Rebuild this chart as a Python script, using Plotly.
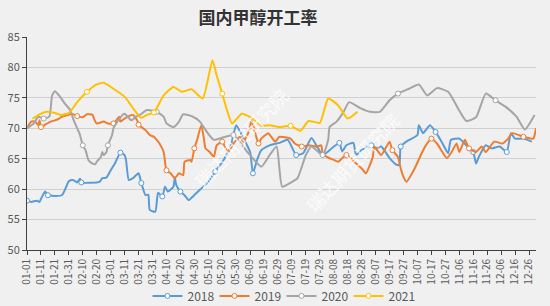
import plotly.graph_objects as go

# ---- data (dates as MM-DD, values in %) ----
d2018 = ["01-01","01-04","01-08","01-10","01-11","01-14","01-16","01-26","01-31","02-03",
         "02-06","02-08","02-09","02-22","02-24","02-27","03-01","03-04","03-08","03-11",
         "03-12","03-14","03-17","03-21","03-23","03-26","03-28","03-29","04-02","04-04",
         "04-07","04-09","04-11","04-15","04-16","04-17","04-20","04-23","04-26","04-29",
         "05-04","05-10","05-15","05-21","05-26","05-30","06-03","06-09","06-11","06-14",
         "06-17","06-23","06-30","07-06","07-12","07-17","07-23","07-27","07-31","08-07",
         "08-12","08-14","08-17","08-22","08-24","08-28","09-04","09-07","09-11","09-17",
         "09-22","09-24","09-25","09-29","10-07","10-08","10-11","10-16","10-20","10-25",
         "10-29","10-31","11-06","11-11","11-16","11-18","11-20","11-25","11-29","12-05",
         "12-10","12-13","12-16","12-22","12-28"]
v2018 = [58.1,57.9,58.1,57.9,58.4,59.6,59.0,59.0,61.3,61.5,
         61.1,61.7,61.1,61.2,61.8,61.9,63.1,64.2,66.0,65.6,
         64.8,61.5,61.8,62.6,61.0,59.0,59.1,56.6,56.3,59.4,
         58.8,60.4,59.6,60.4,61.9,60.7,59.6,59.0,58.2,58.8,
         59.9,61.2,62.9,64.8,67.0,70.5,68.9,66.1,62.6,64.8,
         66.4,67.2,67.6,68.1,65.6,65.9,68.4,67.0,65.6,66.8,
         67.6,66.2,67.2,67.6,65.6,66.4,67.2,66.7,67.0,65.1,
         64.0,64.0,67.0,67.8,68.9,70.5,69.2,70.5,69.4,67.5,
         65.9,68.1,68.3,67.2,66.1,64.2,65.3,67.2,66.7,67.0,
         66.1,69.2,68.3,68.3,67.8]

d2019 = ["01-01","01-04","01-07","01-09","01-10","01-11","01-14","01-18","01-21","01-24",
         "01-26","01-31","02-02","02-06","02-10","02-13","02-17","02-18","02-20","02-25",
         "02-28","03-03","03-05","03-07","03-08","03-11","03-14","03-17","03-20","03-21",
         "03-23","03-26","03-29","04-01","04-03","04-05","04-08","04-10","04-13","04-16",
         "04-19","04-22","04-23","04-27","04-28","04-30","05-02","05-05","05-07","05-08",
         "05-11","05-14","05-16","05-20","05-24","05-29","06-02","06-04","06-08","06-10",
         "06-13","06-15","06-17","06-20","06-22","06-27","06-30","07-08","07-11","07-16",
         "07-21","07-27","07-30","07-31","08-03","08-08","08-11","08-17","08-24","08-28",
         "08-31","09-05","09-06","09-11","09-17","09-19","09-23","09-25","09-27","09-29",
         "10-05","10-10","10-13","10-17","10-21","10-24","10-28","10-31","11-04","11-06",
         "11-10","11-13","11-18","11-22","11-25","12-01","12-07","12-11","12-14","12-22",
         "12-29","12-31"]
v2019 = [70.0,71.1,71.1,70.5,71.3,70.2,70.6,71.1,71.3,71.6,
         71.9,72.2,72.4,72.0,71.8,72.3,72.2,71.6,70.8,71.1,
         70.8,70.8,71.3,71.9,71.1,71.6,72.0,72.2,71.3,70.6,
         70.2,69.7,68.9,68.6,68.1,67.5,66.1,63.1,62.6,61.8,
         62.6,62.3,64.5,64.8,64.5,66.7,68.1,70.5,68.1,66.7,
         66.1,65.3,67.2,67.8,66.1,67.8,68.6,67.8,69.4,71.3,
         68.9,67.5,68.3,68.9,69.2,67.8,68.6,68.3,67.5,67.0,
         67.2,67.0,67.2,65.9,65.3,64.8,64.5,65.6,64.2,63.4,
         62.6,65.3,67.0,65.6,67.8,66.4,65.3,63.4,62.0,61.2,
         63.4,65.9,67.2,68.3,67.5,66.4,65.1,65.9,67.5,66.1,
         68.1,66.7,66.1,67.0,66.1,67.8,67.5,68.3,69.2,68.6,
         68.3,70.0]

d2020 = ["01-01","01-06","01-09","01-13","01-17","01-19","01-21","01-24","01-28","02-01",
         "02-03","02-06","02-08","02-10","02-12","02-14","02-17","02-19","02-20","02-23",
         "02-24","02-25","02-27","02-28","03-02","03-03","03-05","03-10","03-11","03-16",
         "03-19","03-22","03-27","04-03","04-08","04-10","04-15","04-19","04-22","04-29",
         "05-04","05-09","05-14","05-28","06-07","06-17","06-23","06-28","07-02","07-09",
         "07-13","07-19","07-23","07-31","08-04","08-05","08-10","08-15","08-19","08-27",
         "09-03","09-10","09-17","09-23","10-01","10-08","10-14","10-21","10-29","11-05",
         "11-11","11-18","11-25","12-02","12-10","12-17","12-23","12-30"]
v2020 = [70.0,70.8,71.9,71.6,71.9,75.4,76.1,75.4,74.1,73.0,
         71.6,70.0,68.9,67.2,66.4,64.8,64.2,64.1,64.5,65.3,
         66.1,65.6,66.1,67.2,68.9,70.0,70.8,72.3,72.4,71.3,
         71.9,72.2,73.0,72.7,71.9,70.8,70.2,71.1,72.3,71.9,
         71.1,69.4,68.1,68.9,66.1,63.7,65.6,67.0,60.4,61.2,
         61.8,65.6,67.0,65.6,68.1,70.2,71.1,72.7,74.3,73.3,
         72.7,72.7,74.6,75.7,76.5,77.2,75.4,76.6,76.0,73.3,
         71.2,71.8,75.7,74.6,73.4,71.9,69.8,72.2]

d2021 = ["01-05","01-10","01-15","01-21","01-25","01-31","02-06","02-13","02-19","02-25",
         "03-03","03-11","03-17","03-23","03-27","04-01","04-08","04-15","04-21","04-28",
         "05-06","05-13","05-16","05-20","05-23","05-27","06-03","06-11","06-17","06-23",
         "06-30","07-08","07-15","07-21","07-29","08-04","08-11","08-18","08-25"]
v2021 = [71.6,72.3,72.7,72.5,72.2,72.5,74.3,76.0,77.1,77.5,
         76.5,75.2,73.3,71.7,72.2,72.6,75.4,76.8,76.0,76.4,
         74.9,81.2,78.7,75.7,73.3,70.8,72.4,71.6,70.4,70.5,
         70.2,70.4,69.6,71.2,70.9,74.9,73.8,71.6,72.7]

series_names = ["2018", "2019", "2020", "2021"]
series_dates = [d2018, d2019, d2020, d2021]
series_vals = [v2018, v2019, v2020, v2021]
colors = ["#5B9BD5", "#ED7D31", "#A5A5A5", "#FFC000"]
marker_counts = [17, 15, 8, 5]

title_text = "国内甲醇开工率"
watermark = "瑞达期货研究院"

FONT = "Noto Sans CJK SC, Microsoft YaHei, sans-serif"

fig = go.Figure()
for name, ds, vs, c, mc in zip(series_names, series_dates, series_vals, colors, marker_counts):
    fig.add_trace(go.Scatter(
        x=["2020-" + d for d in ds], y=vs, name=name, mode="lines+markers",
        line=dict(color=c, width=2, shape="spline", smoothing=0.5),
        marker=dict(symbol="circle", size=5, color="white",
                    line=dict(color=c, width=1), maxdisplayed=mc),
    ))

fig.update_layout(
    width=550, height=306,
    margin=dict(l=27, r=14, t=37, b=56, autoexpand=False),
    paper_bgcolor="#f0f0f0", plot_bgcolor="#f0f0f0",
    font=dict(family=FONT, color="#595959", size=11),
    title=dict(text="<b>" + title_text + "</b>", x=0.469, xref="container", xanchor="center",
               y=0.941, yref="container", yanchor="middle",
               font=dict(size=17, color="#333333", family=FONT)),
    showlegend=True,
    legend=dict(orientation="h", x=0.5, xanchor="center", y=0.033, yref="container",
                yanchor="middle",
                font=dict(size=12, color="#595959"), bgcolor="rgba(0,0,0,0)",
                itemwidth=30, tracegroupgap=0, entrywidth=22, entrywidthmode="pixels"),
    xaxis=dict(type="date", range=["2020-01-01", "2020-12-31"], automargin=False,
               tick0="2020-01-01", dtick=10 * 86400000, tickformat="%m-%d",
               tickangle=-90, showgrid=False, showline=True, linecolor="#404040",
               linewidth=1, ticks="outside", ticklen=4, tickcolor="#404040",
               tickfont=dict(size=10, color="#595959"), zeroline=False),
    yaxis=dict(range=[50, 85], dtick=5, showgrid=True, gridcolor="#d0d0d0", automargin=False,
               gridwidth=1, showline=True, linecolor="#404040", linewidth=1,
               ticks="outside", ticklen=4, tickcolor="#404040",
               tickfont=dict(size=11, color="#595959"), zeroline=False),
)

for wx, wy in [(0.311, 0.797), (0.639, 0.413)]:
    fig.add_annotation(text=watermark, x=wx, y=wy, xref="paper", yref="paper",
                       showarrow=False, textangle=-47,
                       font=dict(size=18, color="rgba(255,255,255,0.8)", family=FONT))

fig.write_html("out.html")
